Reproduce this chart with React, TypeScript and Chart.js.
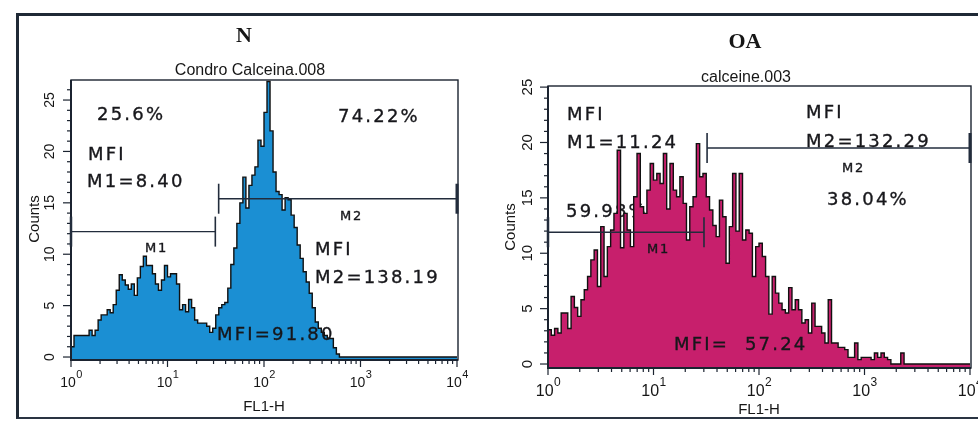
import React, { useEffect, useRef } from "react";
import { Chart, registerables } from "chart.js";

Chart.register(...registerables);

// Log-amplified FL1 channels: 32 channels per decade, 10^0 … 10^4 (128 channels)
const CH_PER_DECADE = 32;
const DECADES = [0, 1, 2, 3, 4];
const COUNT_TICKS = [0, 5, 10, 15, 20, 25];

// N — Condro Calceina.008, counts per channel
const nCounts = [
  3.6, 1.0, 2.1, 2.1, 2.1, 2.1, 2.1, 2.6, 2.1, 2.6,
  3.6, 4.1, 4.1, 4.6, 4.3, 5.1, 6.5, 8.0, 7.5, 7.0,
  6.6, 7.1, 6.0, 7.7, 8.8, 9.8, 8.9, 8.9, 8.1, 7.1,
  6.5, 7.5, 8.9, 7.8, 8.1, 8.1, 7.1, 4.6, 5.1, 4.4,
  5.6, 4.8, 3.6, 3.3, 3.3, 3.3, 3.0, 2.4, 2.8, 4.1,
  4.8, 5.1, 5.3, 6.7, 9.0, 10.6, 13.0, 15.0, 17.5, 14.5,
  16.7, 17.7, 18.5, 21.1, 20.5, 23.8, 26.8, 22.0, 18.0, 16.1,
  15.8, 14.3, 15.5, 15.3, 13.8, 12.6, 10.9, 9.6, 8.3, 7.3,
  6.2, 4.8, 3.4, 2.8, 2.4, 2.1, 1.8, 1.8, 0.9, 0.3,
  0, 0, 0, 0, 0, 0, 0, 0, 0, 0,
  0, 0, 0, 0, 0, 0, 0, 0, 0, 0,
  0, 0, 0, 0, 0, 0, 0, 0, 0, 0,
  0, 0, 0, 0, 0, 0, 0, 0,
];

// OA — calceine.003, counts per channel
const oaCounts = [
  2.4, 3.1, 2.6, 3.2, 2.8, 4.6, 4.6, 3.2, 6.1, 5.1,
  4.3, 5.8, 6.7, 7.9, 9.4, 10.3, 7.0, 12.4, 7.9, 10.6,
  12.1, 13.6, 19.3, 10.5, 13.6, 12.1, 10.6, 15.1, 19.0, 14.2,
  13.6, 15.7, 18.1, 16.6, 17.2, 16.3, 19.0, 14.0, 18.1, 15.7,
  15.1, 16.9, 14.5, 11.2, 14.2, 15.1, 19.9, 16.9, 17.2, 15.1,
  13.9, 12.5, 11.5, 14.8, 13.3, 9.1, 12.4, 17.2, 12.0, 17.2,
  11.2, 12.1, 11.8, 7.9, 10.6, 10.9, 9.7, 7.9, 4.5, 7.9,
  6.4, 5.5, 4.9, 4.6, 6.9, 4.9, 5.8, 4.9, 3.7, 4.0,
  2.8, 5.5, 3.4, 3.4, 2.8, 1.9, 5.8, 1.9, 1.9, 1.5,
  1.5, 1.3, 0.6, 0.6, 1.9, 0.4, 0.6, 0.6, 0.6, 0.4,
  1.0, 0.6, 1.0, 0.6, 0.4, 0, 0, 0, 1.0, 0,
  0, 0, 0, 0, 0, 0, 0, 0, 0, 0,
  0, 0, 0, 0, 0, 0, 0, 0,
];

// Region markers: [from, to, drawn at count level]
const nGateM1 = [1, 31.3, 12.2];
const nGateM2 = [33.9, 10000, 15.4];
const oaGateM1 = [1, 30.1, 11.9];
const oaGateM2 = [32.2, 10000, 19.5];

type Note = { text: string; x: number; y: number; size: number; under?: boolean };

const nNotes: Note[] = [
  { text: "25.6%", x: 97, y: 120, size: 18 },
  { text: "74.22%", x: 338, y: 122, size: 18 },
  { text: "MFI", x: 88, y: 160, size: 18 },
  { text: "M1=8.40", x: 87, y: 187, size: 18 },
  { text: "M1", x: 145, y: 252, size: 13 },
  { text: "M2", x: 340, y: 220, size: 13 },
  { text: "MFI", x: 315, y: 255, size: 18 },
  { text: "M2=138.19", x: 315, y: 283, size: 18 },
  { text: "MFI=91.80", x: 217, y: 340, size: 18 },
];

const oaNotes: Note[] = [
  { text: "MFI", x: 567, y: 120, size: 18 },
  { text: "M1=11.24", x: 567, y: 148, size: 18, under: true },
  { text: "59.98%", x: 566, y: 217, size: 18, under: true },
  { text: "M1", x: 647, y: 253, size: 13 },
  { text: "MFI", x: 806, y: 118, size: 18 },
  { text: "M2=132.29", x: 806, y: 147, size: 18 },
  { text: "M2", x: 842, y: 172, size: 13 },
  { text: "38.04%", x: 827, y: 205, size: 18 },
  { text: "MFI=  57.24", x: 674, y: 350, size: 18 },
];

const INK = "#1b2330";
const W = 978;
const H = 421;

type PanelCfg = {
  counts: number[];
  fill: string;
  padding: { left: number; right: number; top: number; bottom: number };
  yMin: number;
  yMax: number;
  yMinorTop: number;
  gates: number[][];
  notes: Note[];
  title: string;
  titleX: number;
  titleY: number;
  sub: string;
  subX: number;
  subY: number;
  countsX: number;
  countsY: number;
  yLabelX: number;
  yLabelSize: number;
  xBase: number;
  xExpBase: number;
  xSize: number;
  flBase: number;
  flSize: number;
};

const toPoints = (counts: number[]) => {
  const pts = counts.map((c, i) => ({ x: Math.pow(10, i / CH_PER_DECADE), y: c }));
  pts.push({ x: 10000, y: counts[counts.length - 1] });
  return pts;
};

function seg(ctx: CanvasRenderingContext2D, x1: number, y1: number, x2: number, y2: number) {
  ctx.beginPath();
  ctx.moveTo(x1, y1);
  ctx.lineTo(x2, y2);
  ctx.stroke();
}

function drawNotes(ctx: CanvasRenderingContext2D, notes: Note[]) {
  ctx.save();
  ctx.fillStyle = "#17171b";
  ctx.strokeStyle = "#17171b";
  ctx.lineWidth = 0.35;
  ctx.textAlign = "left";
  ctx.textBaseline = "alphabetic";
  for (const n of notes) {
    ctx.font = `${n.size}px "DejaVu Sans"`;
    (ctx as any).letterSpacing = n.size > 14 ? "2.2px" : "1.8px";
    ctx.fillText(n.text, n.x, n.y);
    ctx.strokeText(n.text, n.x, n.y);
  }
  (ctx as any).letterSpacing = "0px";
  ctx.restore();
}

const cytometryFrame = {
  id: "cytometryFrame",
  beforeDatasetsDraw(chart: any, _args: any, o: any) {
    drawNotes(chart.ctx, (o.notes as Note[]).filter((n) => n.under));
  },
  afterDatasetsDraw(chart: any, _args: any, o: any) {
    const { ctx, chartArea: a } = chart;
    const xs = chart.scales.x;
    const ys = chart.scales.y;
    ctx.save();
    ctx.strokeStyle = INK;
    ctx.fillStyle = "#161616";

    // plot box
    ctx.lineWidth = 1.4;
    ctx.strokeRect(a.left, a.top, a.right - a.left + 1, a.bottom - a.top);
    ctx.lineWidth = 2;
    seg(ctx, a.left, a.top, a.left, a.bottom + 1);
    seg(ctx, a.left - 1, a.bottom, a.right + 1, a.bottom);

    // count ticks
    ctx.lineWidth = 1.2;
    for (let v = 0; v <= o.yMinorTop; v++) {
      const py = ys.getPixelForValue(v);
      const len = v % 5 === 0 ? 8 : 4;
      seg(ctx, a.left - len, py, a.left, py);
    }
    ctx.font = `${o.yLabelSize}px "Liberation Sans"`;
    ctx.textAlign = "center";
    ctx.textBaseline = "middle";
    for (const v of COUNT_TICKS) {
      const py = ys.getPixelForValue(v);
      ctx.save();
      ctx.translate(o.yLabelX, py);
      ctx.rotate(-Math.PI / 2);
      ctx.fillText(String(v), 0, 0);
      ctx.restore();
    }

    // log ticks
    for (let d = 0; d < 4; d++) {
      for (let m = 1; m <= 9; m++) {
        const px = xs.getPixelForValue(m * Math.pow(10, d));
        seg(ctx, px, a.bottom, px, a.bottom + (m === 1 ? 7 : 4));
      }
    }
    const pEnd = xs.getPixelForValue(10000);
    seg(ctx, pEnd, a.bottom, pEnd, a.bottom + 7);

    // decade labels 10^n
    ctx.textBaseline = "alphabetic";
    ctx.textAlign = "left";
    for (const d of DECADES) {
      const px = xs.getPixelForValue(Math.pow(10, d));
      ctx.font = `${o.xSize}px "Liberation Sans"`;
      const wb = ctx.measureText("10").width;
      const expFont = `${Math.round(o.xSize * 0.78)}px "Liberation Sans"`;
      ctx.font = expFont;
      const we = ctx.measureText(String(d)).width;
      const x0 = px - (wb + we) / 2;
      ctx.font = `${o.xSize}px "Liberation Sans"`;
      ctx.fillText("10", x0, o.xBase);
      ctx.font = expFont;
      ctx.fillText(String(d), x0 + wb + 0.5, o.xExpBase);
    }

    // axis titles
    ctx.font = `${o.flSize}px "Liberation Sans"`;
    ctx.textAlign = "center";
    ctx.fillText("FL1-H", (a.left + a.right) / 2, o.flBase);
    ctx.save();
    ctx.translate(o.countsX, o.countsY);
    ctx.rotate(-Math.PI / 2);
    ctx.textBaseline = "middle";
    ctx.fillText("Counts", 0, 0);
    ctx.restore();

    // file name and group title
    ctx.font = `16px "Liberation Sans"`;
    ctx.fillText(o.sub, o.subX, o.subY);
    ctx.font = `bold 22px "Liberation Serif"`;
    ctx.fillText(o.title, o.titleX, o.titleY);

    // region markers
    ctx.strokeStyle = "#222c3c";
    for (const g of o.gates as number[][]) {
      const x1 = xs.getPixelForValue(g[0]);
      const x2 = xs.getPixelForValue(g[1]);
      const py = ys.getPixelForValue(g[2]);
      ctx.lineWidth = 1.4;
      seg(ctx, x1, py, x2, py);
      ctx.lineWidth = g[0] <= 1 ? 2.5 : 1.6;
      seg(ctx, x1, py - 15, x1, py + 15);
      ctx.lineWidth = g[1] >= 10000 ? 3 : 1.6;
      seg(ctx, x2, py - 15, x2, py + 15);
    }
    ctx.restore();

    drawNotes(ctx, (o.notes as Note[]).filter((n) => !n.under));
  },
};

function Panel({ cfg }: { cfg: PanelCfg }) {
  const ref = useRef<HTMLCanvasElement | null>(null);
  useEffect(() => {
    if (!ref.current) return;
    const chart = new Chart(ref.current, {
      type: "line",
      data: {
        datasets: [
          {
            data: toPoints(cfg.counts),
            stepped: "after",
            fill: "start",
            backgroundColor: cfg.fill,
            borderColor: "#111111",
            borderWidth: 1.4,
            pointRadius: 0,
          },
        ],
      },
      options: {
        responsive: false,
        animation: false,
        events: [],
        layout: { padding: cfg.padding },
        scales: {
          x: { type: "logarithmic", min: 1, max: 10000, display: false },
          y: { type: "linear", min: cfg.yMin, max: cfg.yMax, display: false },
        },
        plugins: {
          legend: { display: false },
          tooltip: { enabled: false },
          cytometryFrame: cfg,
        } as any,
      },
      plugins: [cytometryFrame as any],
    });
    return () => chart.destroy();
  }, [cfg]);
  return (
    <canvas
      ref={ref}
      width={W}
      height={H}
      style={{ position: "absolute", left: 0, top: 0, width: W, height: H }}
    />
  );
}

const nPanel: PanelCfg = {
  counts: nCounts,
  fill: "#1b8fd3",
  padding: { left: 71, right: W - 457, top: 80, bottom: H - 360 },
  yMin: -0.29,
  yMax: 26.95,
  yMinorTop: 26,
  gates: [nGateM1, nGateM2],
  notes: nNotes,
  title: "N",
  titleX: 244,
  titleY: 42,
  sub: "Condro Calceina.008",
  subX: 250,
  subY: 75,
  countsX: 35,
  countsY: 219,
  yLabelX: 50,
  yLabelSize: 14,
  xBase: 387,
  xExpBase: 378,
  xSize: 14,
  flBase: 411,
  flSize: 15,
};

const oaPanel: PanelCfg = {
  counts: oaCounts,
  fill: "#c71f6c",
  padding: { left: 548, right: W - 970, top: 86, bottom: H - 368 },
  yMin: -0.36,
  yMax: 25.1,
  yMinorTop: 25,
  gates: [oaGateM1, oaGateM2],
  notes: oaNotes,
  title: "OA",
  titleX: 745,
  titleY: 48,
  sub: "calceine.003",
  subX: 746,
  subY: 82,
  countsX: 511,
  countsY: 227,
  yLabelX: 528,
  yLabelSize: 15,
  xBase: 396,
  xExpBase: 386,
  xSize: 16,
  flBase: 414,
  flSize: 15,
};

export default function App() {
  return (
    <div
      style={{
        position: "absolute",
        left: 0,
        top: 0,
        width: W,
        height: H,
        overflow: "hidden",
        background: "#ffffff",
      }}
    >
      <div
        style={{
          position: "absolute",
          left: 16,
          top: 13,
          width: 1000,
          height: 401,
          borderTop: "3px solid #1f2935",
          borderLeft: "3px solid #1f2935",
          borderBottom: "2px solid #2a3442",
        }}
      />
      <Panel cfg={nPanel} />
      <Panel cfg={oaPanel} />
    </div>
  );
}
